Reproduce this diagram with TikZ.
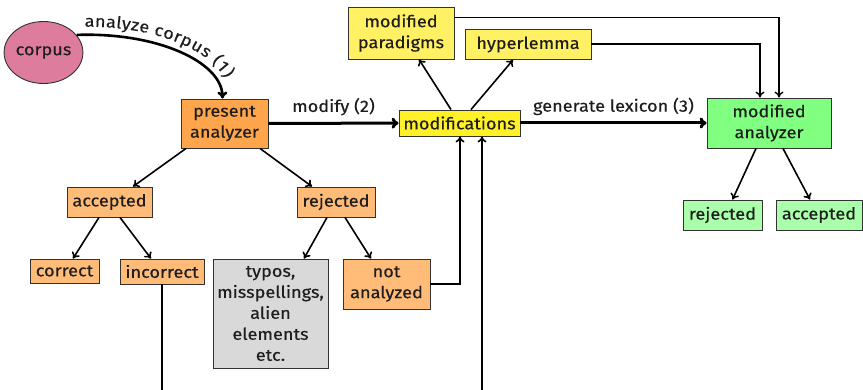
\documentclass[tikz,border=0pt]{standalone}
\usepackage{fontspec}
\setmainfont[FakeStretch=1.1,FakeBold=0.4]{Fira Sans}
\usetikzlibrary{arrows.meta,decorations.text,shapes.geometric}
\definecolor{cpink}{RGB}{222,124,157}
\definecolor{corange}{RGB}{255,166,77}
\definecolor{clorange}{RGB}{255,187,120}
\definecolor{cyellow}{RGB}{255,240,40}
\definecolor{clyellow}{RGB}{255,240,100}
\definecolor{cgreen}{RGB}{128,255,128}
\definecolor{clgreen}{RGB}{170,255,170}
\definecolor{cgray}{RGB}{217,217,217}
\definecolor{cborder}{RGB}{50,50,50}
\definecolor{ctext}{RGB}{30,30,30}
\tikzset{
  every node/.style={font=\fontsize{16.5}{21}\selectfont, text=ctext},
  box/.style={draw=cborder, line width=0.9pt, inner sep=0pt, align=center},
  arr/.style={-{To[length=6pt,width=9pt]}, line width=1.6pt},
  thickarr/.style={-{To[length=7pt,width=11pt]}, line width=3pt},
  plain/.style={line width=1.6pt},
}
\begin{document}
\begin{tikzpicture}[x=1pt,y=-1pt]
\useasboundingbox (0,0) rectangle (863,390);
% nodes
\node[box, ellipse, fill=cpink, minimum width=71pt, minimum height=62pt] (corpus) at (43.5,52.5) {corpus};
\node[box, fill=corange, minimum width=87pt, minimum height=49pt] (present) at (224.5,123.5) {present\\analyzer};
\node[box, fill=cyellow, minimum width=121pt, minimum height=26pt] (mods) at (459.5,123) {modifications};
\node[box, fill=clyellow, minimum width=106pt, minimum height=52pt] (para) at (401,33) {modified\\paradigms};
\node[box, fill=clyellow, minimum width=126pt, minimum height=30pt] (hyper) at (528,44.5) {hyperlemma};
\node[box, fill=cgreen, minimum width=124pt, minimum height=50pt] (modan) at (769,123) {modified\\analyzer};
\node[box, fill=clgreen, minimum width=79pt, minimum height=30pt] (grej) at (722.5,215) {rejected};
\node[box, fill=clgreen, minimum width=86pt, minimum height=30pt] (gacc) at (819,215) {accepted};
\node[box, fill=clorange, minimum width=85pt, minimum height=30pt] (acc) at (109.5,202) {accepted};
\node[box, fill=clorange, minimum width=78pt, minimum height=30pt] (rej) at (336,202) {rejected};
\node[box, fill=clorange, minimum width=69pt, minimum height=24pt] (correct) at (64.5,271) {correct};
\node[box, fill=clorange, minimum width=84pt, minimum height=25pt] (incorrect) at (162,271.5) {incorrect};
\node[box, fill=cgray, minimum width=115pt, minimum height=109pt] (typos) at (270.5,313.5) {typos,\\misspellings,\\alien\\elements\\etc.};
\node[box, fill=clorange, minimum width=87pt, minimum height=50pt] (notan) at (386.5,284) {not\\analyzed};
\coordinate (incend) at (162,392);
\coordinate (bend) at (482,392);
% connectors
\draw[-{To[length=7pt,width=10pt]}, line width=2.6pt, postaction={decorate,
  decoration={text along path, raise=8pt, text align={left indent=8pt},
  text={|\fontsize{16.5}{21}\selectfont\color{ctext}|analyze corpus (1)}}}]
  (corpus.28) .. controls (157,32) and (222,62) .. ([xshift=-2pt]present.north);
\draw[thickarr] (present) -- node[above=3pt] {modify (2)} (mods);
\draw[thickarr] (mods) -- node[above=3pt] {generate lexicon (3)} (modan);
\draw[arr] ([xshift=-38.5pt]present.south) -- ([xshift=23.5pt]acc.north);
\draw[arr] ([xshift=35.5pt]present.south) -- ([xshift=-24pt]rej.north);
\draw[arr] ([xshift=-10.5pt]acc.south) -- ([xshift=8.5pt]correct.north);
\draw[arr] ([xshift=10.5pt]acc.south) -- ([xshift=-11pt]incorrect.north);
\draw[arr] ([xshift=-9pt]rej.south) -- ([xshift=33.5pt]typos.north);
\draw[arr] ([xshift=9pt]rej.south) -- ([xshift=-15.5pt]notan.north);
\draw[arr] ([xshift=-8.5pt]mods.north) -- ([xshift=18pt]para.south);
\draw[arr] ([xshift=11.5pt]mods.north) -- ([xshift=-15pt]hyper.south);
\draw[arr] ([xshift=-13pt]modan.south) -- ([xshift=10pt]grej.north);
\draw[arr] ([xshift=14pt]modan.south) -- ([xshift=-9pt]gacc.north);
\draw[arr, line width=1.4pt] ([yshift=-11pt]para.north east) -| ([xshift=10pt]modan.north);
\draw[arr, line width=1.4pt] ([yshift=0.5pt]hyper.east) -| ([xshift=-9pt]modan.north);
\draw[arr] (notan.east) -| ([xshift=0.5pt]mods.south);
\draw[arr] (bend) -- ([xshift=22.5pt]mods.south);
\draw[plain] (incorrect.south) -- (incend);
\end{tikzpicture}
\end{document}
